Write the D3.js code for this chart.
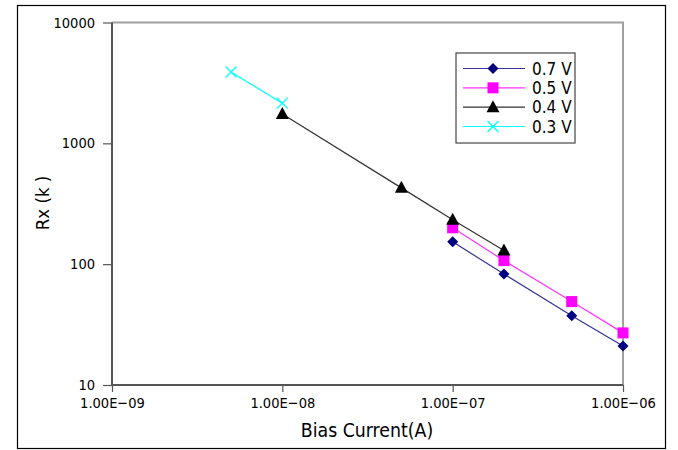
<!DOCTYPE html>
<html>
<head>
<meta charset="utf-8">
<script src="https://cdn.jsdelivr.net/npm/d3@7"></script>
<style>
  html, body { margin: 0; padding: 0; background: #fff; }
  svg { display: block; }
  text { font-family: "DejaVu Sans Condensed", "DejaVu Sans", sans-serif; fill: #000; }
</style>
</head>
<body>
<svg id="chart" width="678" height="450"></svg>
<script>
// Bias current (A) vs. Rx (kOhm), one series per gate voltage
const seriesNames = ["0.7 V", "0.5 V", "0.4 V", "0.3 V"];
const current07 = [1e-7, 2e-7, 5e-7, 1e-6];
const rx07      = [153, 83, 37.5, 21];
const current05 = [1e-7, 2e-7, 5e-7, 1e-6];
const rx05      = [200, 107, 49, 27];
const current04 = [1e-8, 5e-8, 1e-7, 2e-7];
const rx04      = [1750, 428, 233, 130];
const current03 = [5e-9, 1e-8];
const rx03      = [3890, 2150];
const xTicks = [1e-9, 1e-8, 1e-7, 1e-6];
const xTickLabels = ["1.00E\u221209", "1.00E\u221208", "1.00E\u221207", "1.00E\u221206"];
const yTicks = [10, 100, 1000, 10000];

const series = [
  { name: seriesNames[0], x: current07, y: rx07, line: "#33339a", fill: "#000080", shape: "diamond" },
  { name: seriesNames[1], x: current05, y: rx05, line: "#ff33ff", fill: "#ff00ff", shape: "square" },
  { name: seriesNames[2], x: current04, y: rx04, line: "#333333", fill: "#000000", shape: "triangle" },
  { name: seriesNames[3], x: current03, y: rx03, line: "#00ffff", fill: "#00ffff", shape: "cross" }
];

const svg = d3.select("#chart");
const plot = { left: 112, right: 623, top: 22.5, bottom: 385 };

// outer frame
svg.append("rect").attr("x", 17.5).attr("y", 5.5).attr("width", 648).attr("height", 443)
  .attr("fill", "none").attr("stroke", "#000").attr("stroke-width", 1.2);

const x = d3.scaleLog().domain([1e-9, 1e-6]).range([plot.left, plot.right]);
const y = d3.scaleLog().domain([10, 10000]).range([plot.bottom, plot.top]);

// top and right plot border
svg.append("path")
  .attr("d", `M${plot.left},${plot.top}H${plot.right}V${plot.bottom}`)
  .attr("fill", "none").attr("stroke", "#a0a0a0").attr("stroke-width", 2);

// axes
const xAxis = d3.axisBottom(x).tickValues(xTicks)
  .tickFormat((d, i) => xTickLabels[i]).tickSize(7).tickPadding(6);
const yAxis = d3.axisLeft(y).tickValues(yTicks)
  .tickFormat(d3.format("d")).tickSize(9).tickPadding(8);

const gx = svg.append("g").attr("transform", `translate(0,${plot.bottom})`).call(xAxis);
const gy = svg.append("g").attr("transform", `translate(${plot.left},0)`).call(yAxis);
[gx, gy].forEach(g => {
  g.select(".domain").attr("stroke", "#555").attr("stroke-width", 2);
  g.selectAll(".tick line").attr("stroke", "#555").attr("stroke-width", 1.2);
  g.selectAll(".tick text").attr("font-size", 14.5)
    .attr("font-family", "'DejaVu Sans Condensed', 'DejaVu Sans', sans-serif").attr("fill", "#000");
});
gy.select(".domain").attr("d", `M0,${plot.bottom}V${plot.top}`);
gx.select(".domain").attr("d", `M${plot.left},0H${plot.right}`);

// axis titles
svg.append("text").attr("x", 367).attr("y", 437).attr("text-anchor", "middle")
  .attr("font-size", 19.3).text("Bias Current(A)");
svg.append("text").attr("transform", "translate(49,203) rotate(-90)")
  .attr("text-anchor", "middle").attr("font-size", 18.5).text("Rx (k )");

// marker drawing
function drawMarker(g, shape, color) {
  if (shape === "diamond") {
    g.append("path").attr("d", "M0,-5.5L5.5,0L0,5.5L-5.5,0Z").attr("fill", color);
  } else if (shape === "square") {
    g.append("rect").attr("x", -5.5).attr("y", -5.5).attr("width", 11).attr("height", 11).attr("fill", color);
  } else if (shape === "triangle") {
    g.append("path").attr("d", "M0,-7L6.5,5L-6.5,5Z").attr("fill", color);
  } else {
    g.append("path").attr("d", "M-5.5,-5.5L5.5,5.5M5.5,-5.5L-5.5,5.5")
      .attr("stroke", color).attr("stroke-width", 1.3).attr("fill", "none");
  }
}

const line = d3.line().x(d => x(d[0])).y(d => y(d[1]));

series.forEach(s => {
  const pts = s.x.map((v, i) => [v, s.y[i]]);
  svg.append("path").datum(pts).attr("d", line)
    .attr("fill", "none").attr("stroke", s.line).attr("stroke-width", 1.2);
  pts.forEach(p => {
    const g = svg.append("g").attr("transform", `translate(${x(p[0])},${y(p[1])})`);
    drawMarker(g, s.shape, s.fill);
  });
});

// legend
const legend = svg.append("g");
legend.append("rect").attr("x", 456).attr("y", 53).attr("width", 119).attr("height", 90)
  .attr("fill", "#fff").attr("stroke", "#444").attr("stroke-width", 1.2);
const rowY = d3.scalePoint().domain(seriesNames).range([68.5, 126.5]);
series.forEach(s => {
  const cy = rowY(s.name);
  legend.append("line").attr("x1", 463).attr("x2", 525).attr("y1", cy).attr("y2", cy)
    .attr("stroke", s.line).attr("stroke-width", 1.2);
  drawMarker(legend.append("g").attr("transform", `translate(493,${cy})`), s.shape, s.fill);
  legend.append("text").attr("x", 532).attr("y", cy).attr("dy", "0.36em")
    .attr("font-size", 17).text(s.name);
});
</script>
</body>
</html>
